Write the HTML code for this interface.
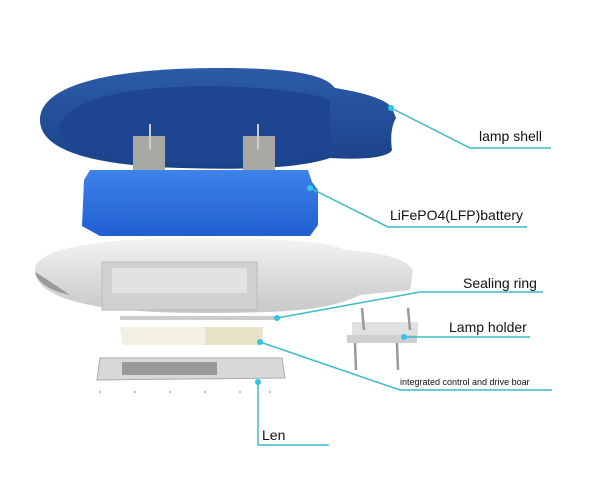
<!DOCTYPE html>
<html><head><meta charset="utf-8"><style>
html,body{margin:0;padding:0;background:#fff;}
svg{display:block}
text{font-family:"Liberation Sans",sans-serif;fill:#111;}
</style></head><body>
<svg width="600" height="500" viewBox="0 0 600 500" xmlns="http://www.w3.org/2000/svg">
<defs>
<linearGradient id="sh" x1="0" y1="0" x2="0" y2="1"><stop offset="0" stop-color="#2d5ba8"/><stop offset="1" stop-color="#1a4288"/></linearGradient>
<linearGradient id="bt" x1="0" y1="0" x2="0" y2="1"><stop offset="0" stop-color="#3f82ea"/><stop offset="1" stop-color="#1f5fd0"/></linearGradient>
<linearGradient id="hs" x1="0" y1="0" x2="0" y2="1"><stop offset="0" stop-color="#f4f4f4"/><stop offset="0.5" stop-color="#dcdcdc"/><stop offset="1" stop-color="#c8c8c8"/></linearGradient>
</defs>
<path d="M40,120 C40,85 110,68 220,68 C290,68 325,74 335,88 C360,92 385,98 392,108 L396,118 C392,125 390,135 392,150 C388,158 360,160 330,158 C300,168 250,170 180,168 C110,166 40,155 40,120 Z" fill="url(#sh)"/>
<path d="M60,125 C70,100 120,88 200,86 C260,86 310,92 330,100 L330,155 C280,162 200,165 130,160 C80,155 58,142 60,125 Z" fill="#1d4590"/>
<rect x="133" y="136" width="32" height="36" fill="#a8a8a4"/>
<rect x="243" y="136" width="32" height="36" fill="#a8a8a4"/>
<line x1="150" y1="124" x2="150" y2="150" stroke="#ccc" stroke-width="2"/>
<line x1="258" y1="124" x2="258" y2="150" stroke="#ccc" stroke-width="2"/>
<path d="M90,170 L308,170 L312,182 L318,190 L318,225 L310,236 L100,236 L82,226 L84,180 Z" fill="url(#bt)"/>
<path d="M35,270 C35,250 90,238 200,238 C280,238 330,242 345,250 C380,252 405,258 413,270 L410,290 L360,295 C330,310 290,313 200,313 C100,313 35,300 35,270 Z" fill="url(#hs)"/>
<path d="M35,272 C38,285 55,292 70,295 C55,285 45,278 35,272 Z" fill="#9a9a9a"/>
<rect x="102" y="262" width="155" height="48" fill="#d0d0d0" stroke="#bbb"/>
<rect x="112" y="268" width="135" height="25" fill="#e2e2e2"/>
<rect x="120" y="316" width="155" height="4" fill="#ccc"/>
<path d="M120,327 L263,327 L262,345 L123,345 Z" fill="#e7e2c8"/>
<path d="M120,327 L205,327 L205,345 L123,345 Z" fill="#f2f0e0"/>
<path d="M100,358 L282,358 L285,378 L97,380 Z" fill="#d8d8d8" stroke="#aaa"/>
<rect x="122" y="362" width="95" height="13" fill="#9a9a9a"/>
<g fill="#aaa"><circle cx="100" cy="392" r="1"/><circle cx="135" cy="392" r="1"/><circle cx="170" cy="392" r="1"/><circle cx="205" cy="392" r="1"/><circle cx="240" cy="392" r="1"/><circle cx="270" cy="392" r="1"/></g>
<rect x="352" y="322" width="66" height="14" fill="#e0e0e0"/>
<rect x="347" y="335" width="70" height="8" fill="#cfcfcf"/>
<g stroke="#999" stroke-width="2.5"><line x1="355" y1="343" x2="356" y2="370"/><line x1="397" y1="343" x2="398" y2="370"/><line x1="362" y1="308" x2="364" y2="330"/><line x1="408" y1="308" x2="410" y2="330"/></g>
<g stroke="#3bbcc8" stroke-width="1.5" fill="none">
<polyline points="391,108 470,148 551,148"/>
<polyline points="310,188 388,227 527,227"/>
<polyline points="277,318 420,292 543,292"/>
<polyline points="404,337 530,337"/>
<polyline points="260,342 400,390 552,390"/>
<polyline points="258,382 258,445 329,445"/>
</g>
<g fill="#2fc6e0"><circle cx="391" cy="108" r="3"/><circle cx="310" cy="188" r="3"/><circle cx="277" cy="318" r="3"/><circle cx="404" cy="337" r="3"/><circle cx="260" cy="342" r="3"/><circle cx="258" cy="382" r="3"/></g>
<text x="479" y="141" font-size="14">lamp shell</text>
<text x="390" y="220" font-size="14">LiFePO4(LFP)battery</text>
<text x="463" y="288" font-size="14">Sealing ring</text>
<text x="449" y="332" font-size="14">Lamp holder</text>
<text x="400" y="385" font-size="9">integrated control and drive boar</text>
<text x="262" y="440" font-size="14">Len</text>
</svg>
</body></html>
